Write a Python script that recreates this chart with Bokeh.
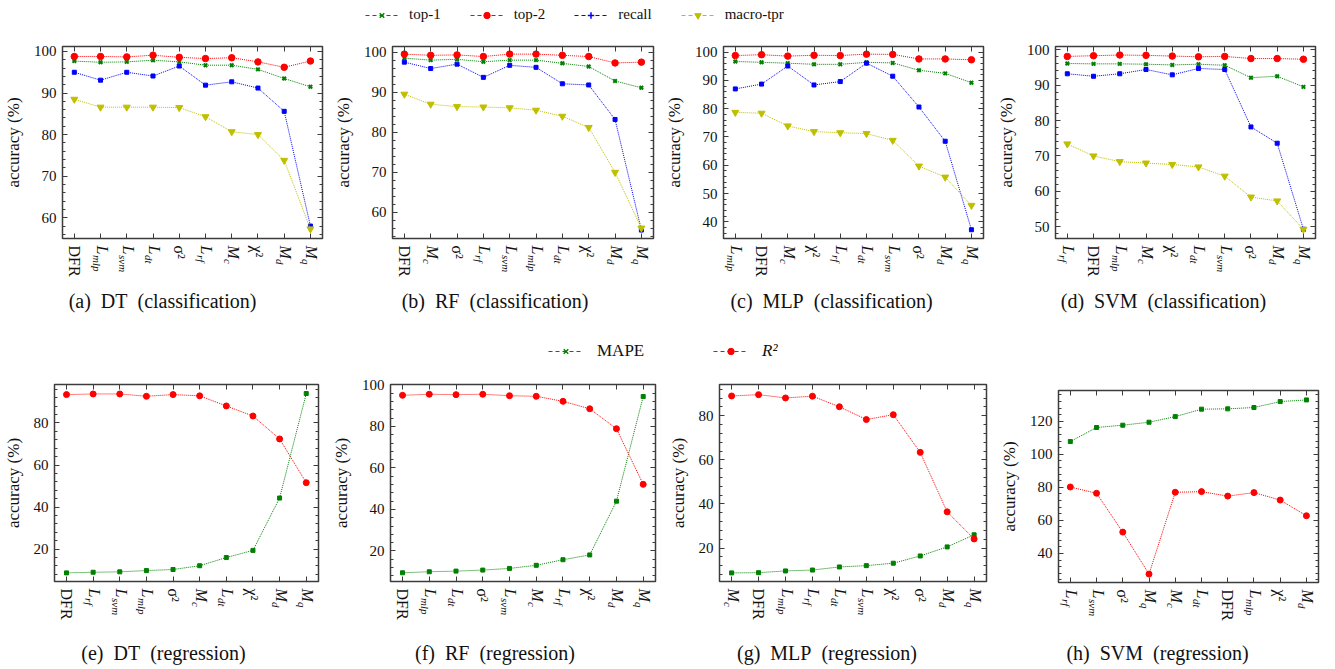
import math
from bokeh.plotting import figure
from bokeh.models import (ColumnDataSource, LabelSet, Label, LinearAxis, FixedTicker,
                          SingleIntervalTicker, Range1d, Legend, LegendItem)
from bokeh.layouts import column, row
from bokeh.embed import file_html
from bokeh.resources import INLINE

FONT = "Liberation Serif"

# ---------------- data ----------------
# classification
cats_dt_c = ["DFR", "Lmlp", "Lsvm", "Ldt", "sigma2", "Lrf", "Mc", "chi2", "Md", "Mq"]
dt_top1 = [97.7, 97.4, 97.5, 97.9, 97.5, 96.7, 96.7, 95.7, 93.5, 91.5]
dt_top2 = [98.8, 98.8, 98.7, 99.1, 98.6, 98.3, 98.5, 97.5, 96.2, 97.7]
dt_recall = [95.0, 93.1, 95.0, 94.1, 96.5, 91.9, 92.7, 91.2, 85.6, 58.0]
dt_mtpr = [88.5, 86.6, 86.6, 86.6, 86.5, 84.3, 80.7, 80.0, 73.8, 57.3]

cats_rf_c = ["DFR", "Mc", "sigma2", "Lrf", "Lsvm", "Lmlp", "Ldt", "chi2", "Md", "Mq"]
rf_top1 = [98.5, 98.0, 98.2, 97.6, 98.0, 98.0, 97.2, 96.4, 92.8, 91.1]
rf_top2 = [99.5, 99.2, 99.3, 98.9, 99.5, 99.5, 99.2, 98.9, 97.3, 97.5]
rf_recall = [97.5, 95.9, 97.0, 93.7, 96.7, 96.2, 92.1, 91.8, 83.2, 55.6]
rf_mtpr = [89.5, 87.0, 86.4, 86.3, 86.1, 85.5, 84.0, 81.2, 70.0, 56.1]

cats_mlp_c = ["Lmlp", "DFR", "Mc", "chi2", "Lrf", "Ldt", "Lsvm", "sigma2", "Md", "Mq"]
mlp_top1 = [96.7, 96.4, 96.1, 95.7, 95.7, 96.4, 96.2, 93.6, 92.5, 89.2]
mlp_top2 = [98.8, 99.1, 98.6, 98.9, 98.8, 99.3, 99.2, 97.6, 97.6, 97.3]
mlp_recall = [87.0, 88.7, 95.1, 88.4, 89.6, 96.1, 91.5, 80.6, 68.5, 37.2]
mlp_mtpr = [78.7, 78.4, 73.9, 71.9, 71.5, 71.2, 68.8, 59.7, 55.8, 45.8]

cats_svm_c = ["Lrf", "DFR", "Lmlp", "Mc", "chi2", "Ldt", "Lsvm", "sigma2", "Md", "Mq"]
svm_top1 = [96.1, 96.0, 96.0, 95.9, 95.7, 95.9, 95.6, 92.1, 92.5, 89.5]
svm_top2 = [98.1, 98.3, 98.5, 98.4, 98.2, 98.0, 98.1, 97.5, 97.5, 97.3]
svm_recall = [93.2, 92.5, 93.2, 94.4, 92.9, 94.7, 94.4, 78.2, 73.6, 49.3]
svm_mtpr = [73.4, 70.0, 68.4, 68.0, 67.6, 66.9, 64.3, 58.4, 57.3, 49.3]

# regression
cats_dt_r = ["DFR", "Lrf", "Lsvm", "Lmlp", "sigma2", "Mc", "Ldt", "chi2", "Md", "Mq"]
dt_mape = [8.7, 9.0, 9.2, 9.8, 10.3, 12.1, 16.0, 19.4, 44.3, 94.0]
dt_r2 = [93.5, 93.8, 93.8, 92.7, 93.5, 92.9, 88.1, 83.3, 72.4, 51.6]

cats_rf_r = ["DFR", "Lmlp", "Ldt", "sigma2", "Lsvm", "Mc", "Lrf", "chi2", "Md", "Mq"]
rf_mape = [9.5, 10.0, 10.3, 10.8, 11.6, 13.1, 15.8, 18.1, 44.0, 94.4]
rf_r2 = [95.0, 95.5, 95.3, 95.5, 94.8, 94.5, 92.1, 88.5, 78.9, 52.1]

cats_mlp_r = ["Mc", "DFR", "Lmlp", "Lrf", "Ldt", "Lsvm", "chi2", "sigma2", "Md", "Mq"]
mlp_mape = [8.7, 8.8, 9.6, 10.0, 11.4, 12.0, 13.1, 16.4, 20.5, 26.0]
mlp_r2 = [89.0, 89.6, 88.1, 88.9, 84.1, 78.3, 80.5, 63.4, 36.4, 24.1]

cats_svm_r = ["Lrf", "Lsvm", "sigma2", "Mq", "Mc", "Ldt", "DFR", "Lmlp", "chi2", "Md"]
svm_mape = [107.7, 116.2, 117.6, 119.4, 122.8, 127.3, 127.5, 128.3, 131.9, 132.9]
svm_r2 = [80.2, 76.4, 52.9, 27.5, 77.0, 77.4, 74.7, 76.8, 72.3, 62.8]

clf_names = ["top-1", "top-2", "recall", "macro-tpr"]
reg_names = ["MAPE", "R\u00b2"]

# tick label text: main part, subscript, style of main
TICK_TEXT = {
    "DFR": ("DFR", "", "normal"),
    "Lmlp": ("L", "mlp", "italic"),
    "Lsvm": ("L", "svm", "italic"),
    "Ldt": ("L", "dt", "italic"),
    "Lrf": ("L", "rf", "italic"),
    "Mc": ("M", "c", "italic"),
    "Md": ("M", "d", "italic"),
    "Mq": ("M", "q", "italic"),
    "sigma2": ("\u03c3\u00b2", "", "normal"),
    "chi2": ("\u03c7\u00b2", "", "normal"),
}
MAIN_W = {"L": 9.5, "M": 13.5}

# ---------------- styles ----------------
STY = {
    "top-1": dict(color="#008000", marker="x", size=5, lw=2.0),
    "top-2": dict(color="#ff0000", marker="circle", size=6.5, lw=1),
    "recall": dict(color="#0000ff", marker="square", size=4, lw=1),
    "macro-tpr": dict(color="#bfbf00", marker="inverted_triangle", size=7, lw=1),
    "MAPE": dict(color="#008000", marker="square", size=4, lw=1),
    "R\u00b2": dict(color="#ff0000", marker="circle", size=6, lw=1),
}
LEG_STY = {
    "top-1": dict(color="#008000", marker="x", size=10, lw=1.5),
    "top-2": dict(color="#ff0000", marker="circle", size=11, lw=1),
    "recall": dict(color="#0000ff", marker="cross", size=11, lw=1.5),
    "macro-tpr": dict(color="#bfbf00", marker="inverted_triangle", size=12, lw=1),
    "MAPE": dict(color="#008000", marker="x", size=10, lw=1.5),
    "R\u00b2": dict(color="#ff0000", marker="circle", size=12, lw=1),
}
FRAME_COL = "#3c3c3c"
TXT_COL = "#111111"


def hidden_axis(ticker, common):
    return LinearAxis(ticker=ticker, major_label_text_font_size="1px",
                      major_label_text_color=None, major_label_standoff=0, **common)


def make_panel(cats, series, names, ylim, yint, caption, w, bl, br, bt, fh, strip_h, cap_dy, cap_dx):
    n = len(cats)
    xr = Range1d(-0.45, n - 1 + 0.46)
    ph = bt + fh + 3
    p = figure(width=w, height=ph, x_range=xr, y_range=Range1d(*ylim),
               output_backend="svg", toolbar_location=None,
               min_border_left=bl, min_border_right=br, min_border_top=bt, min_border_bottom=3,
               x_axis_location=None, y_axis_location=None)
    p.grid.visible = False
    p.outline_line_color = FRAME_COL
    p.outline_line_width = 1.5

    yt = SingleIntervalTicker(interval=yint, num_minor_ticks=5)
    xt = FixedTicker(ticks=list(range(n)), minor_ticks=[])
    common = dict(axis_line_color=None, major_tick_in=5, major_tick_out=0,
                  minor_tick_in=3, minor_tick_out=0,
                  major_tick_line_color=FRAME_COL, minor_tick_line_color=FRAME_COL,
                  major_tick_line_width=1, minor_tick_line_width=1)
    ya = LinearAxis(ticker=yt, axis_label="accuracy (%)", axis_label_text_font=FONT,
                    axis_label_text_font_size="17px", axis_label_text_font_style="normal",
                    axis_label_text_color=TXT_COL, axis_label_standoff=8,
                    major_label_text_font=FONT, major_label_text_font_size="15px",
                    major_label_text_color=TXT_COL, major_label_standoff=6, **common)
    p.add_layout(ya, "left")
    p.add_layout(hidden_axis(yt, common), "right")
    p.add_layout(hidden_axis(xt, common), "below")
    p.add_layout(hidden_axis(xt, common), "above")

    xs = list(range(n))
    for nm, vals in zip(names, series):
        s = STY[nm]
        p.line(xs, vals, line_color=s["color"], line_dash="1 1", line_width=1)
        p.scatter(xs, vals, marker=s["marker"], size=s["size"], line_color=s["color"],
                  fill_color=s["color"], line_width=s["lw"])

    # strip below the frame for rotated tick labels and the caption (1 data unit = 1 px)
    st = figure(width=w, height=strip_h, x_range=xr, y_range=Range1d(0, strip_h),
                output_backend="svg", toolbar_location=None, min_border_left=bl,
                min_border_right=br, min_border_top=0, min_border_bottom=0,
                x_axis_location=None, y_axis_location=None)
    st.grid.visible = False
    st.outline_line_color = None

    top = strip_h - 4
    up = dict(x=[], y=[], t=[])
    it = dict(x=[], y=[], t=[])
    sb = dict(x=[], y=[], t=[])
    for i, c in enumerate(cats):
        main, sub, style = TICK_TEXT[c]
        d = it if style == "italic" else up
        d["x"].append(i); d["y"].append(top); d["t"].append(main)
        if sub:
            sb["x"].append(i); sb["y"].append(top - MAIN_W[main]); sb["t"].append(sub)
    lab_common = dict(x="x", y="y", text="t", angle=-math.pi / 2, text_align="left",
                      text_baseline="middle", text_font=FONT, text_color=TXT_COL)
    st.add_layout(LabelSet(source=ColumnDataSource(up), text_font_size="16px", **lab_common))
    st.add_layout(LabelSet(source=ColumnDataSource(it), x_offset=1.5, text_font_size="16px",
                           text_font_style="italic", **lab_common))
    st.add_layout(LabelSet(source=ColumnDataSource(sb), x_offset=-4, text_font_size="11px",
                           text_font_style="italic", **lab_common))
    st.add_layout(Label(x=(xr.start + xr.end) / 2, y=strip_h - cap_dy + 3, x_offset=cap_dx,
                        text=caption, text_align="center", text_baseline="middle",
                        text_font=FONT, text_font_size="20px", text_color=TXT_COL))
    return column(p, st, spacing=0)


def make_legend_fig(w, h, groups):
    f = figure(width=w, height=h, x_range=Range1d(0, 1), y_range=Range1d(0, 1),
               output_backend="svg", toolbar_location=None, min_border=0,
               x_axis_location=None, y_axis_location=None)
    f.grid.visible = False
    f.outline_line_color = None
    for names, loc, fstyle, spacing, gw, stand, fsize in groups:
        items = []
        for nm in names:
            s = LEG_STY[nm]
            rl = f.line([float("nan")], [float("nan")], line_color=s["color"],
                        line_dash="4 3", line_width=1.2)
            rm = f.scatter([float("nan")], [float("nan")], marker=s["marker"], size=s["size"],
                           line_color=s["color"], fill_color=s["color"], line_width=s["lw"])
            items.append(LegendItem(label=nm, renderers=[rl, rm]))
        leg = Legend(items=items, orientation="horizontal", location=loc,
                     border_line_color=None, background_fill_alpha=0, padding=0, margin=0,
                     spacing=spacing, label_standoff=stand, glyph_width=gw, glyph_height=16,
                     label_height=16, label_text_font=FONT, label_text_font_size=fsize,
                     label_text_font_style=fstyle, label_text_color=TXT_COL)
        f.add_layout(leg)
    return f


leg_top = make_legend_fig(1335, 28, [(clf_names, (365, 5), "normal", 29, 33, 11, "15px")])
leg_bot = make_legend_fig(1335, 36, [(["MAPE"], (548, 10), "normal", 0, 35, 14, "17px"),
                                     (["R\u00b2"], (713, 10), "italic", 0, 35, 14, "17px")])

# top row: total height 307 = 18 + 192 + 3 + 94
pa = make_panel(cats_dt_c, [dt_top1, dt_top2, dt_recall, dt_mtpr], clf_names, (55.0, 101.2), 10,
                "(a)\u2002DT\u2002(classification)", 330, 61, 8, 18, 192, 94, 62, -30)
pb = make_panel(cats_rf_c, [rf_top1, rf_top2, rf_recall, rf_mtpr], clf_names, (53.5, 101.4), 10,
                "(b)\u2002RF\u2002(classification)", 330, 62, 7, 18, 192, 94, 62, -28)
pc = make_panel(cats_mlp_c, [mlp_top1, mlp_top2, mlp_recall, mlp_mtpr], clf_names, (34.1, 102.0), 10,
                "(c)\u2002MLP\u2002(classification)", 330, 63, 7, 18, 192, 94, 62, -22)
pd_ = make_panel(cats_svm_c, [svm_top1, svm_top2, svm_recall, svm_mtpr], clf_names, (46.7, 100.9), 10,
                 "(d)\u2002SVM\u2002(classification)", 345, 65, 20, 18, 192, 94, 62, -22)

# bottom row: total height 298
pe = make_panel(cats_dt_r, [dt_mape, dt_r2], reg_names, (4.6, 98.3), 20,
                "(e)\u2002DT\u2002(regression)", 328, 50, 10, 13, 197, 85, 71, -23)
pf = make_panel(cats_rf_r, [rf_mape, rf_r2], reg_names, (5.3, 100.2), 20,
                "(f)\u2002RF\u2002(regression)", 332, 61, 5, 13, 197, 85, 71, -28)
pg = make_panel(cats_mlp_r, [mlp_mape, mlp_r2], reg_names, (4.8, 94.2), 20,
                "(g)\u2002MLP\u2002(regression)", 335, 59, 9, 13, 197, 85, 71, -26)
ph = make_panel(cats_svm_r, [svm_mape, svm_r2], reg_names, (22.4, 138.6), 20,
                "(h)\u2002SVM\u2002(regression)", 340, 63, 17, 19, 192, 84, 70, -31)

layout = column(leg_top,
                row(pa, pb, pc, pd_, spacing=0),
                leg_bot,
                row(pe, pf, pg, ph, spacing=0),
                spacing=0)

open("out.html", "w").write(file_html(layout, INLINE))
